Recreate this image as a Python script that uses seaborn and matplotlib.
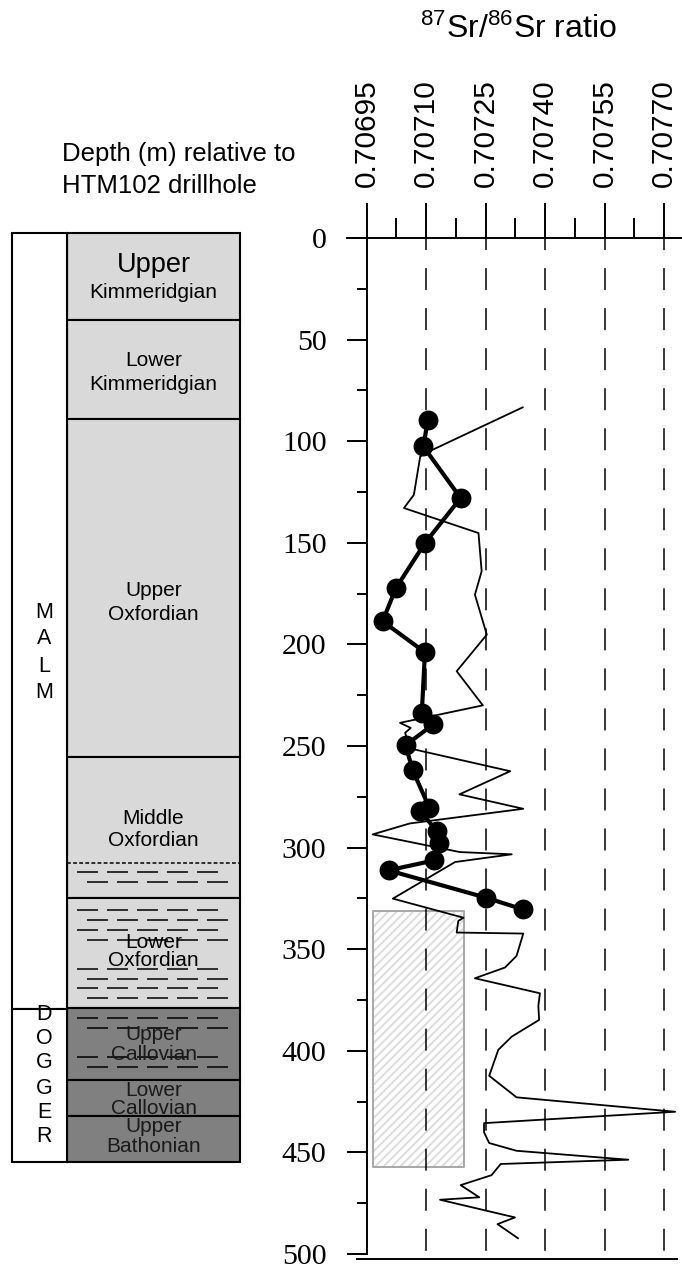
import matplotlib
matplotlib.use("Agg")
import matplotlib.pyplot as plt
import seaborn as sns
import pandas as pd

# ---------------- data ----------------
# Sr isotope samples (thick line with dots)
sample_depth = [89.8, 102.6, 128.0, 150.1, 172.2, 188.6, 203.9, 233.7, 239.4, 249.6,
                261.9, 280.4, 282.0, 291.9, 297.6, 306.3, 311.2, 324.6, 330.4]
sample_ratio = [0.707104, 0.707093, 0.707187, 0.707097, 0.707024, 0.706990, 0.707097,
                0.707089, 0.707118, 0.707048, 0.707066, 0.707108, 0.707085, 0.707127,
                0.707133, 0.707120, 0.707005, 0.707250, 0.707344]

# reference curve (thin line)
curve_depth = [83.3, 104.6, 107.5, 126.4, 132.9, 145.2, 164.0, 175.5, 195.2, 213.2,
               230.0, 238.6, 241.1, 243.5, 251.2, 262.4, 273.8, 280.9, 288.1, 293.5,
               302.2, 303.3, 307.1, 325.1, 334.5, 336.1, 341.8, 342.3, 353.3, 359.0,
               364.3, 371.7, 377.9, 384.8, 393.0, 399.5, 412.3, 422.9, 430.0, 435.6,
               440.1, 445.4, 449.2, 453.6, 455.7, 461.2, 466.1, 472.1, 473.3, 482.0,
               485.3, 492.3]
curve_ratio = [0.707344, 0.707112, 0.707085, 0.707069, 0.707044, 0.707232, 0.707240,
               0.707223, 0.707253, 0.707177, 0.707243, 0.707034, 0.707061, 0.707047,
               0.707059, 0.707312, 0.707184, 0.707345, 0.707059, 0.706965, 0.707185,
               0.707316, 0.707173, 0.707016, 0.707194, 0.707181, 0.707177, 0.707345,
               0.707328, 0.707299, 0.707223, 0.707387, 0.707383, 0.707385, 0.707316,
               0.707282, 0.707259, 0.707328, 0.707728, 0.707246, 0.707246, 0.707259,
               0.707328, 0.707610, 0.707288, 0.707265, 0.707187, 0.707234, 0.707135,
               0.707324, 0.707280, 0.707332]

# hatched box
box_ratio = [0.706965, 0.707196]
box_depth = [331.2, 457.4]

# axes ticks
x_major = [0.70695, 0.70710, 0.70725, 0.70740, 0.70755, 0.70770]
x_labels = ["0.70695", "0.70710", "0.70725", "0.70740", "0.70755", "0.70770"]
x_minor = [0.707025, 0.707175, 0.707325, 0.707475, 0.707625]
grid_ratio = [0.70710, 0.70725, 0.70740, 0.70755, 0.70770]
y_major = [0, 50, 100, 150, 200, 250, 300, 350, 400, 450, 500]
y_minor = [25, 75, 125, 175, 225, 275, 325, 375, 425, 475]

# stratigraphic column (pixel layout of the drawn column)
stage_top = [233, 320, 419, 757, 898, 1008, 1080, 1116]
stage_bottom = [320, 419, 757, 898, 1008, 1080, 1116, 1162]
stage_color = ["#d9d9d9"] * 5 + ["#808080"] * 3
stage_line1 = ["Upper", "Lower", "Upper", "Middle", "Lower", "Upper", "Lower", "Upper"]
stage_line2 = ["Kimmeridgian", "Kimmeridgian", "Oxfordian", "Oxfordian", "Oxfordian",
               "Callovian", "Callovian", "Bathonian"]
stage_line1_y = [265, 360, 590, 819, 942, 1035, 1090, 1127]
stage_line2_y = [293, 385, 615, 840, 961, 1055, 1109, 1147]
stage_line1_size = [19.5, 15, 15, 15, 15, 15, 15, 15]

era_names = ["MALM", "DOGGER"]
era_top = [233, 1009]
era_bottom = [1009, 1162]
era_letter_y = [[613, 639, 666, 692], [1015, 1039, 1063, 1088, 1112, 1136]]

shale_rows_a = [872, 910, 930, 969, 988, 1018, 1057]
shale_rows_b = [882, 920, 940, 979, 998, 1028, 1067]

# ---------------- style ----------------
sns.set_theme(style="ticks")
plt.rcParams["font.family"] = ["Liberation Sans", "DejaVu Sans"]
plt.rcParams["mathtext.fontset"] = "custom"
plt.rcParams["mathtext.rm"] = "Liberation Sans"
plt.rcParams["mathtext.it"] = "Liberation Sans:italic"
plt.rcParams["mathtext.bf"] = "Liberation Sans:bold"
plt.rcParams["hatch.linewidth"] = 1.3
for key in ["text.color", "axes.labelcolor", "xtick.color", "ytick.color",
            "axes.edgecolor"]:
    plt.rcParams[key] = "black"

W, H = 682, 1270
fig = plt.figure(figsize=(W / 100, H / 100), dpi=100)

# ---------------- stratigraphic column ----------------
cax = fig.add_axes([0, 0, 1, 1])
cax.set_xlim(0, W)
cax.set_ylim(H, 0)
cax.axis("off")

col_left, col_mid, col_right = 12, 67, 240
heights = [b - t for t, b in zip(stage_top, stage_bottom)]
cax.bar(x=[(col_mid + col_right) / 2] * len(stage_top), height=heights, bottom=stage_top,
        width=col_right - col_mid, color=stage_color, edgecolor="black", linewidth=1.5,
        zorder=1)
era_h = [b - t for t, b in zip(era_top, era_bottom)]
cax.bar(x=[(col_left + col_mid) / 2] * 2, height=era_h, bottom=era_top,
        width=col_mid - col_left, color="white", edgecolor="black", linewidth=1.5, zorder=1)

# dotted boundary inside Middle Oxfordian
cax.plot([col_mid, col_right], [863, 863], color="black", lw=1.1, ls=(0, (2.5, 1.5)),
         zorder=2)

# shale dashes
def dash_row(y, start):
    xs0 = [start + 30 * k for k in range(5)]
    xs1 = [x + 21 for x in xs0]
    cax.hlines([y] * 5, xs0, xs1, color="black", lw=1.1, zorder=2)

for y in shale_rows_a:
    dash_row(y, 77)
for y in shale_rows_b:
    dash_row(y, 87)

cx = (col_mid + col_right) / 2
for l1, l2, y1, y2, s1, c in zip(stage_line1, stage_line2, stage_line1_y, stage_line2_y,
                                  stage_line1_size, stage_color):
    tc = "black" if c == "#d9d9d9" else "#1a1a1a"
    cax.text(cx, y1, l1, ha="center", va="center", fontsize=s1, color=tc, zorder=3)
    cax.text(cx, y2, l2, ha="center", va="center", fontsize=15, color=tc, zorder=3)

for name, ys in zip(era_names, era_letter_y):
    for ch, y in zip(name, ys):
        cax.text(44, y, ch, ha="center", va="center", fontsize=15.5, color="black")

fig.text(62 / W, 1 - 161.5 / H, "Depth (m) relative to", ha="left", va="baseline",
         fontsize=18.5)
fig.text(62 / W, 1 - 193 / H, "HTM102 drillhole", ha="left", va="baseline",
         fontsize=18.5)
fig.text(518 / W, 1 - 38 / H, r"$^{87}$Sr/$^{86}$Sr ratio", ha="center", va="baseline",
         fontsize=23)

# ---------------- main plot ----------------
px_per_unit = 59.46 / 0.00015
def vx(px):
    return 0.70695 + (px - 366.7) / px_per_unit

ax = fig.add_axes([347 / W, 1 - 1259 / H, 335 / W, (1259 - 238) / H])
ax.set_facecolor("none")
ax.set_xlim(vx(347), vx(682))
ax.set_ylim((1259 - 238) / 2.032, 0)

# hatched box
ax.fill_betweenx(box_depth, box_ratio[0], box_ratio[1], facecolor="white",
                 edgecolor="#dadada", hatch="////", linewidth=0, zorder=1)
ax.fill_betweenx(box_depth, box_ratio[0], box_ratio[1], facecolor="none",
                 edgecolor="#a8a8a8", linewidth=1.4, zorder=1.5)

# dashed grid lines
ax.vlines(grid_ratio, 0, 500, colors="black", linewidth=1.1,
          linestyles=[(6.5, (14.4, 11.8))], zorder=2)

curve_df = pd.DataFrame({"ratio": curve_ratio, "depth": curve_depth})
sample_df = pd.DataFrame({"ratio": sample_ratio, "depth": sample_depth})

sns.lineplot(data=curve_df, x="ratio", y="depth", sort=False, estimator=None,
             color="black", linewidth=1.3, ax=ax, zorder=3)
sns.lineplot(data=sample_df, x="ratio", y="depth", sort=False, estimator=None,
             color="black", linewidth=3.0, ax=ax, zorder=4)
sns.scatterplot(data=sample_df, x="ratio", y="depth", color="black", s=205,
                edgecolor="black", linewidth=0, ax=ax, zorder=5)
ax.set_xlabel("")
ax.set_ylabel("")

# spines
ax.spines["right"].set_visible(False)
for side in ["top", "bottom", "left"]:
    ax.spines[side].set_linewidth(1.4)
    ax.spines[side].set_color("black")
ax.spines["left"].set_position(("data", 0.70695))
ax.spines["left"].set_bounds(0, 500)
ax.spines["bottom"].set_bounds(vx(357), vx(677))

ax.set_xticks(x_major, labels=x_labels)
ax.set_xticks(x_minor, minor=True)
ax.set_yticks(y_major, labels=[str(v) for v in y_major])
ax.set_yticks(y_minor, minor=True)

ax.tick_params(axis="x", which="major", direction="out", length=25.2, width=1.4,
               pad=11.5, labelsize=21.5, top=True, bottom=False, labeltop=True,
               labelbottom=False, labelrotation=90, color="black", labelcolor="black")
ax.tick_params(axis="x", which="minor", direction="out", length=14.4, width=1.4,
               top=True, bottom=False, color="black")
ax.tick_params(axis="y", which="major", direction="out", length=14.4, width=1.4,
               pad=14.5, labelsize=21.5, left=True, right=False, color="black",
               labelcolor="black")
ax.tick_params(axis="y", which="minor", direction="out", length=7.2, width=1.4,
               left=True, right=False, color="black")
for lbl in ax.get_yticklabels():
    lbl.set_fontfamily(["Liberation Serif", "DejaVu Serif"])
for lbl in ax.get_xticklabels():
    lbl.set_fontfamily(["Liberation Sans", "DejaVu Sans"])

fig.savefig("out.png", dpi=100)
